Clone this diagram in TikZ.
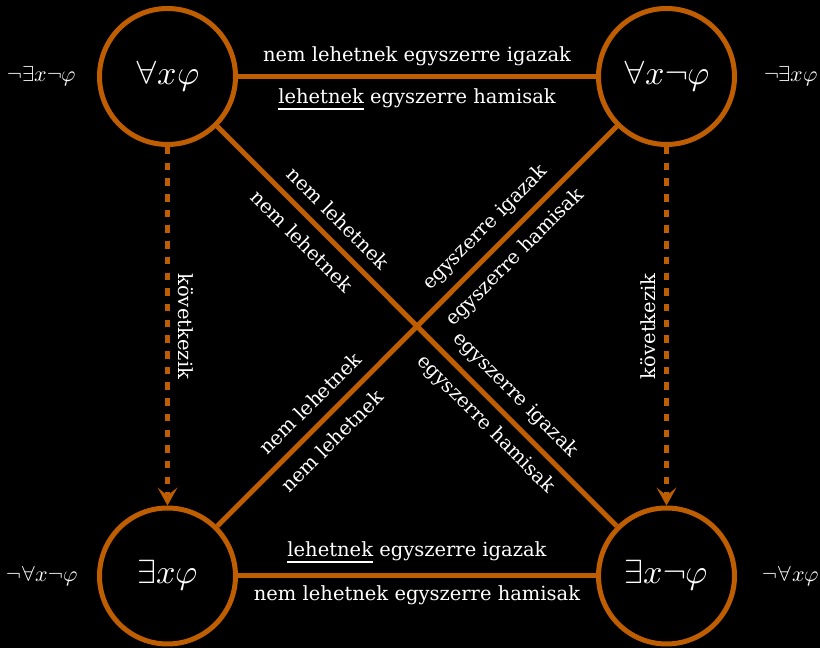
\documentclass[tikz,border=0pt]{standalone}
\usepackage{fontspec}
\usepackage{unicode-math}
\setmainfont{DejaVu Serif}
\setmathfont{Latin Modern Math}
\usetikzlibrary{arrows.meta,calc}
\definecolor{ochre}{RGB}{191,94,0}
% underline set a little lower than \underline would put it
\newsavebox\ulbox
\newcommand\ulword[1]{\sbox\ulbox{#1}\rlap{\rule[-6.5pt]{\wd\ulbox}{2pt}}\usebox\ulbox}
\begin{document}
\begin{tikzpicture}[x=1pt,y=1pt,
  vertex/.style={circle, draw=ochre, line width=5pt, minimum size=136pt, inner sep=0pt,
    text=white, font=\fontsize{34}{40}\selectfont},
  side/.style={text=white, font=\fontsize{22}{26}\selectfont},
  rel/.style={draw=ochre, line width=5pt},
  implies/.style={draw=ochre, line width=5pt, dash pattern=on 7.5pt off 8.2pt,
    -{Stealth[length=18pt,width=20pt,inset=8pt,line width=0pt]}},
  lbl/.style={text=white, font=\fontsize{19.5}{23}\selectfont, inner sep=0pt}]
\fill[black] (0,0) rectangle (820,648);
\useasboundingbox (0,0) rectangle (820,648);

% the four corners of the square of opposition
\node[vertex] (A) at (167.5,571.5) {$\forall x\varphi$};
\node[vertex] (E) at (666.5,571.5) {$\forall x\neg\varphi$};
\node[vertex] (I) at (167.5,72) {$\exists x\varphi$};
\node[vertex] (O) at (666.5,72) {$\exists x\neg\varphi$};

% equivalent forms beside each corner
\node[side] (nA) at (42,571.5) {$\neg\exists x\neg\varphi$};
\node[side] (nE) at (791,571.5) {$\neg\exists x\varphi$};
\node[side] (nI) at (42,72) {$\neg\forall x\neg\varphi$};
\node[side] (nO) at (791,72) {$\neg\forall x\varphi$};

% relations
\draw[rel] (A) -- (E);
\draw[rel] (I) -- (O);
\draw[rel] (A) -- (O);
\draw[rel] (I) -- (E);
\draw[implies] (A) -- (I);
\draw[implies] (E) -- (O);

% contraries and subcontraries
\node[lbl, anchor=base] (c1) at (417,586.3) {nem lehetnek egyszerre igazak};
\node[lbl, anchor=base] (c2) at (417,544.7) {\ulword{lehetnek} egyszerre hamisak};
\node[lbl, anchor=base] (s1) at (417,91.5) {\ulword{lehetnek} egyszerre igazak};
\node[lbl, anchor=base] (s2) at (417,47) {nem lehetnek egyszerre hamisak};

% contradictories
\node[lbl, rotate=-45] (d1) at ($(A)!0.313!(O)!21pt!90:(O)$) {nem lehetnek};
\node[lbl, rotate=-45] (d2) at ($(A)!0.300!(O)!21pt!270:(O)$) {nem lehetnek};
\node[lbl, rotate=-45] (d3) at ($(A)!0.667!(O)!21pt!90:(O)$) {egyszerre igazak};
\node[lbl, rotate=-45] (d4) at ($(A)!0.667!(O)!21pt!270:(O)$) {egyszerre hamisak};
\node[lbl, rotate=45] (d5) at ($(I)!0.316!(E)!21pt!90:(E)$) {nem lehetnek};
\node[lbl, rotate=45] (d6) at ($(I)!0.300!(E)!21pt!270:(E)$) {nem lehetnek};
\node[lbl, rotate=45] (d7) at ($(I)!0.667!(E)!21pt!90:(E)$) {egyszerre igazak};
\node[lbl, rotate=45] (d8) at ($(I)!0.667!(E)!21pt!270:(E)$) {egyszerre hamisak};

% subalternation
\node[lbl, rotate=-90] (k1) at ($(A)!0.5!(I)+(18.5,0)$) {következik};
\node[lbl, rotate=90] (k2) at ($(E)!0.5!(O)+(-18.5,0)$) {következik};
\end{tikzpicture}
\end{document}
